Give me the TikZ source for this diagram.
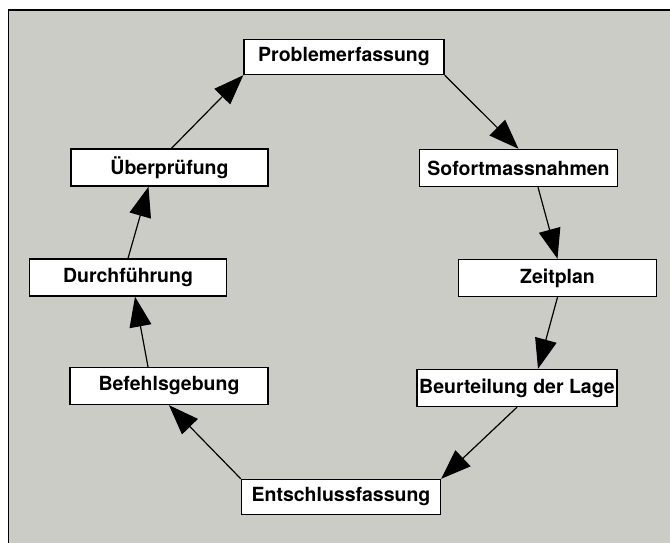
\documentclass[tikz,border=0pt]{standalone}
\usepackage{fontspec}
\setmainfont{TeX Gyre Heros}
\usetikzlibrary{arrows.meta}
\definecolor{bg}{RGB}{204,204,199}
\begin{document}
\begin{tikzpicture}[x=1pt,y=-1pt,
  box/.style={draw=black,line width=1.4pt,fill=white,minimum width=198pt,minimum height=37pt,inner sep=0pt,font=\fontsize{19.5}{23}\selectfont\bfseries},
  link/.style={line width=1.2pt,-{Triangle[length=30pt,width=22pt]}},
  frame/.style={line width=1.8pt,draw=black}]
\useasboundingbox (0,0) rectangle (670,542);
\fill[white] (0,0) rectangle (670,542);
\fill[bg] (8.5,10) rectangle (690,560);
\draw[frame] (8.5,560) -- (8.5,10) -- (690,10);
\node[box,minimum width=200pt,minimum height=35pt] (p) at (344,57) {Problemerfassung};
\node[box] (s) at (518.5,168) {Sofortmassnahmen};
\node[box] (z) at (557.5,278) {Zeitplan};
\node[box,minimum width=200pt] (b) at (517,388) {Beurteilung der Lage};
\node[box,minimum width=199pt,minimum height=35pt] (e) at (341,497) {Entschlussfassung};
\node[box] (bf) at (169,386) {Befehlsgebung};
\node[box,minimum width=197pt] (d) at (128,277.5) {Durchführung};
\node[box,minimum width=197pt] (u) at (169.5,167.5) {Überprüfung};
\draw[link] (p.south east) -- (s.north);
\draw[link] ([xshift=19.5pt]s.south) -- (z.north);
\draw[link] (z.south) -- ([xshift=21pt]b.north);
\draw[link] (b.south) -- (e.north east);
\draw[link] (e.north west) -- (bf.south);
\draw[link] ([xshift=-21pt]bf.north) -- ([xshift=7pt]d.south);
\draw[link] (d.north) -- ([xshift=-21pt]u.south);
\draw[link] ([xshift=2pt]u.north) -- (p.south west);
\end{tikzpicture}
\end{document}
